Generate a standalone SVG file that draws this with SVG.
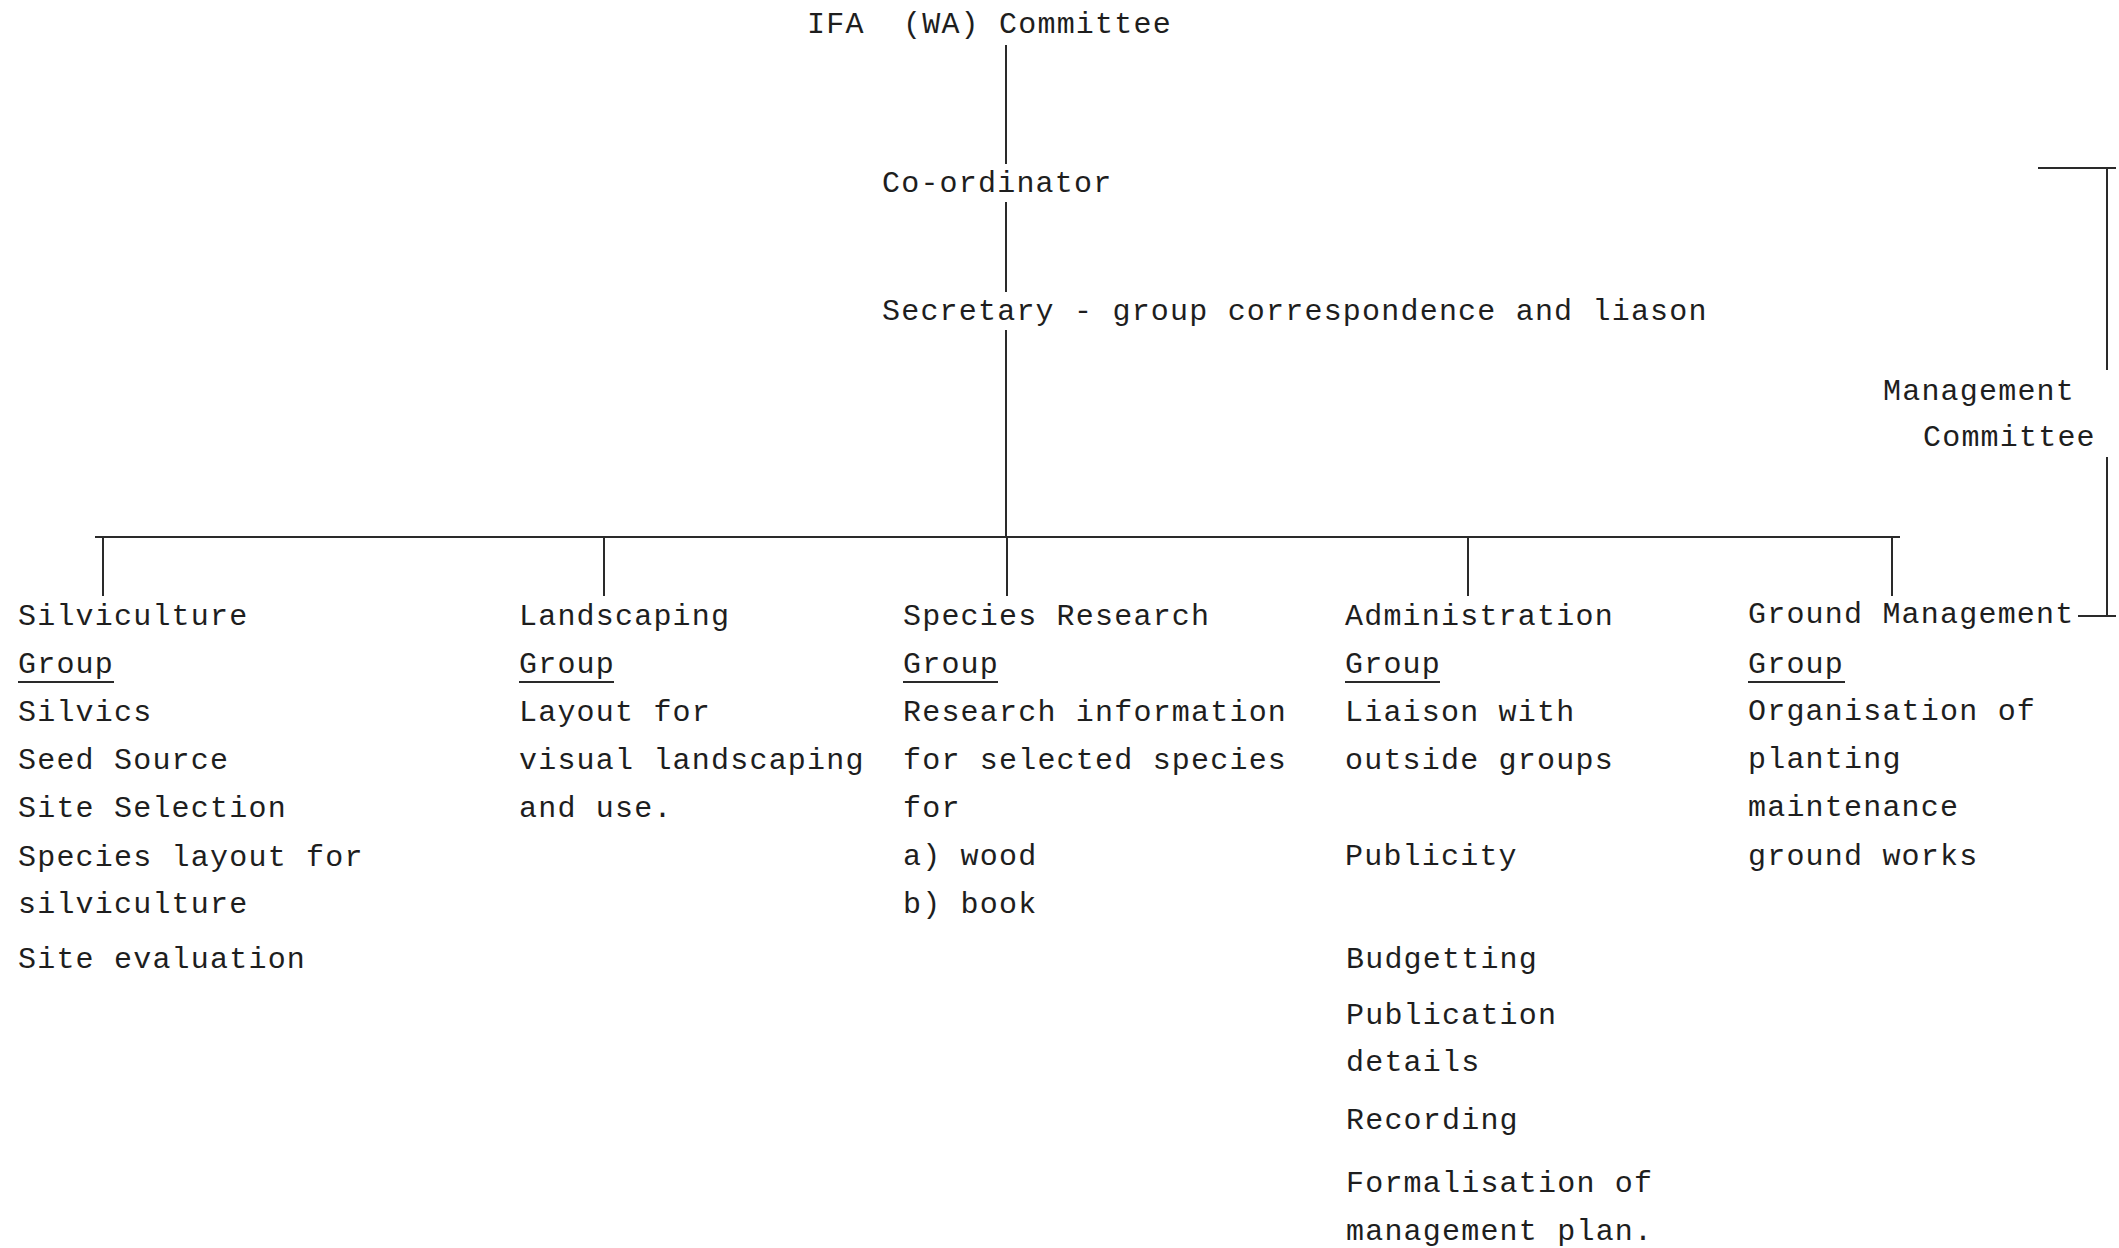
<svg xmlns="http://www.w3.org/2000/svg" width="2119" height="1248" viewBox="0 0 2119 1248">
<style>
text{font-family:"Liberation Mono","DejaVu Sans Mono",monospace;font-size:30px;letter-spacing:1.2px;fill:#1e1e1e;white-space:pre}
.ln{stroke:#2a2a2a;stroke-width:2;fill:none}
.ul{stroke:#2a2a2a;stroke-width:2}
</style>
<rect width="2119" height="1248" fill="#ffffff"/>
<g id="connectors">
<path class="ln" d="M1006 45V164"/>
<path class="ln" d="M1006 202V292"/>
<path class="ln" d="M1006 330V537"/>
<path class="ln" d="M95 537H1900"/>
<path class="ln" d="M103 537V596"/>
<path class="ln" d="M604 537V596"/>
<path class="ln" d="M1007 537V596"/>
<path class="ln" d="M1468 537V596"/>
<path class="ln" d="M1892 537V596"/>
<path class="ln" d="M2038 168H2116M2107 168V370"/>
<path class="ln" d="M2107 457V616M2078 616H2116"/>
</g>
<g id="ifa-committee"><text x="807" y="33" xml:space="preserve">IFA  (WA) Committee</text></g>
<g id="coordinator"><text x="882" y="192">Co-ordinator</text></g>
<g id="secretary"><text x="882" y="320">Secretary - group correspondence and liason</text></g>
<g id="management-committee"><text x="1883" y="400">Management</text><text x="1923" y="446">Committee</text></g>
<g id="silviculture">
<text x="18" y="625">Silviculture</text>
<text x="18" y="673">Group</text><line class="ul" x1="18" y1="682" x2="114" y2="682"/>
<text x="18" y="721">Silvics</text>
<text x="18" y="769">Seed Source</text>
<text x="18" y="817">Site Selection</text>
<text x="18" y="866">Species layout for</text>
<text x="18" y="913">silviculture</text>
<text x="18" y="968">Site evaluation</text>
</g>
<g id="landscaping">
<text x="519" y="625">Landscaping</text>
<text x="519" y="673">Group</text><line class="ul" x1="519" y1="682" x2="614" y2="682"/>
<text x="519" y="721">Layout for</text>
<text x="519" y="769">visual landscaping</text>
<text x="519" y="817">and use.</text>
</g>
<g id="species-research">
<text x="903" y="625">Species Research</text>
<text x="903" y="673">Group</text><line class="ul" x1="903" y1="682" x2="998" y2="682"/>
<text x="903" y="721">Research information</text>
<text x="903" y="769">for selected species</text>
<text x="903" y="817">for</text>
<text x="903" y="865">a) wood</text>
<text x="903" y="913">b) book</text>
</g>
<g id="administration">
<text x="1345" y="625">Administration</text>
<text x="1345" y="673">Group</text><line class="ul" x1="1345" y1="682" x2="1440" y2="682"/>
<text x="1345" y="721">Liaison with</text>
<text x="1345" y="769">outside groups</text>
<text x="1345" y="865">Publicity</text>
<text x="1346" y="968">Budgetting</text>
<text x="1346" y="1024">Publication</text>
<text x="1346" y="1071">details</text>
<text x="1346" y="1129">Recording</text>
<text x="1346" y="1192">Formalisation of</text>
<text x="1346" y="1240">management plan.</text>
</g>
<g id="ground-management">
<text x="1748" y="623">Ground Management</text>
<text x="1748" y="673">Group</text><line class="ul" x1="1748" y1="682" x2="1845" y2="682"/>
<text x="1748" y="720">Organisation of</text>
<text x="1748" y="768">planting</text>
<text x="1748" y="816">maintenance</text>
<text x="1748" y="865">ground works</text>
</g>
</svg>
